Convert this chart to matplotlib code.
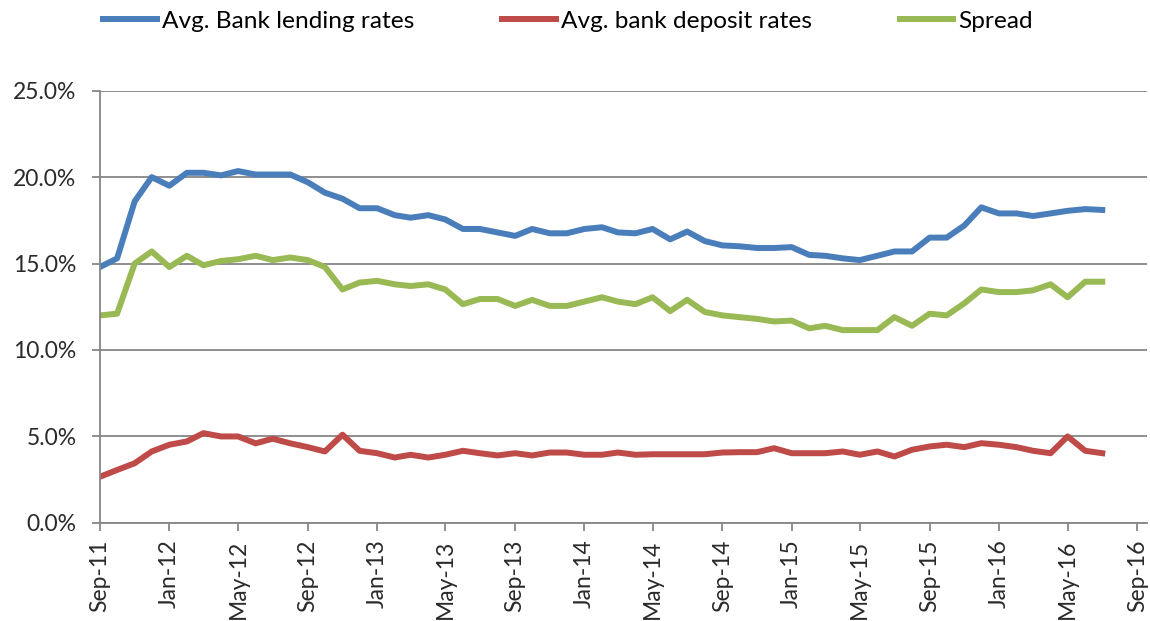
import numpy as np
import pandas as pd
import matplotlib
matplotlib.use("Agg")
import matplotlib.pyplot as plt
import matplotlib.dates as mdates
from matplotlib.ticker import FuncFormatter

# donnees mensuelles, sep-2011 a jul-2016 (en %)
mois = pd.date_range("2011-09-01", periods=59, freq="MS")

taux_pret = [14.8, 15.3, 18.6, 20.0, 19.5, 20.25, 20.25, 20.1, 20.35, 20.15,
             20.15, 20.15, 19.7, 19.1, 18.75, 18.2, 18.2, 17.8, 17.65, 17.8,
             17.55, 17.0, 17.0, 16.8, 16.6, 17.0, 16.75, 16.75, 17.0, 17.1,
             16.8, 16.75, 17.0, 16.4, 16.85, 16.3, 16.05, 16.0, 15.9, 15.9,
             15.95, 15.5, 15.45, 15.3, 15.2, 15.45, 15.7, 15.7, 16.5, 16.5,
             17.2, 18.25, 17.9, 17.9, 17.75, 17.9, 18.05, 18.15, 18.1]

taux_depot = [2.67, 3.06, 3.45, 4.13, 4.52, 4.71, 5.19, 5.0, 5.0, 4.6,
              4.87, 4.6, 4.38, 4.13, 5.1, 4.17, 4.03, 3.78, 3.94, 3.78,
              3.94, 4.17, 4.03, 3.9, 4.03, 3.9, 4.07, 4.07, 3.94, 3.94,
              4.07, 3.94, 3.97, 3.97, 3.97, 3.97, 4.07, 4.09, 4.09, 4.32,
              4.03, 4.03, 4.03, 4.13, 3.94, 4.13, 3.84, 4.23, 4.42, 4.52,
              4.38, 4.61, 4.52, 4.38, 4.17, 4.03, 5.0, 4.17, 4.03]

ecart = [12.0, 12.1, 15.0, 15.7, 14.8, 15.45, 14.9, 15.15, 15.25, 15.45,
         15.2, 15.35, 15.2, 14.8, 13.5, 13.9, 14.0, 13.8, 13.7, 13.8,
         13.5, 12.65, 12.95, 12.95, 12.55, 12.9, 12.55, 12.55, 12.8, 13.05,
         12.8, 12.65, 13.05, 12.25, 12.9, 12.2, 12.0, 11.9, 11.8, 11.65,
         11.7, 11.25, 11.4, 11.15, 11.15, 11.15, 11.9, 11.4, 12.1, 12.0,
         12.7, 13.5, 13.35, 13.35, 13.45, 13.8, 13.05, 13.95, 13.95]

gris = "#868686"
plt.rcParams["font.family"] = ["Lato", "DejaVu Sans"]

fig = plt.figure(figsize=(11.5, 6.21), dpi=100)
ax = fig.add_axes([0.087, 0.158, 0.910, 0.696])

ax.plot(mois, taux_pret, color="#4A7EBB", lw=4.3, label="Avg. Bank lending rates")
ax.plot(mois, taux_depot, color="#BE4B48", lw=4.3, label="Avg. bank deposit rates")
ax.plot(mois, ecart, color="#98B954", lw=4.3, label="Spread")

ax.set_ylim(0, 25)
ax.set_yticks(np.arange(0, 25.1, 5))
ax.yaxis.set_major_formatter(FuncFormatter(lambda v, p: "%.1f%%" % v))
ax.set_xlim(pd.Timestamp("2011-09-01"), pd.Timestamp("2016-09-17"))
ax.xaxis.set_major_locator(mdates.MonthLocator(bymonth=[1, 5, 9]))
ax.xaxis.set_major_formatter(mdates.DateFormatter("%b-%y"))
plt.setp(ax.get_xticklabels(), rotation=90)

ax.grid(True, axis="y", color=gris, lw=1.3)
ax.set_axisbelow(True)
for cote in ["top", "right"]:
    ax.spines[cote].set_visible(False)
for cote in ["left", "bottom"]:
    ax.spines[cote].set_color(gris)
    ax.spines[cote].set_linewidth(1.3)
ax.tick_params(axis="both", colors=gris, length=6, width=1.3, labelsize=16.5,
               labelcolor="#2a2a2a")
ax.tick_params(axis="y", pad=11)
ax.tick_params(axis="x", pad=6)

#legende en haut, une seule ligne
fig.legend(loc="center left", bbox_to_anchor=(103 / 1150, 1 - 21 / 621), ncol=3,
           frameon=False, borderpad=0, borderaxespad=0,
           handlelength=2.2, handletextpad=0.2, columnspacing=3.6,
           prop={"size": 17.6})

fig.savefig("out.png", dpi=100)
